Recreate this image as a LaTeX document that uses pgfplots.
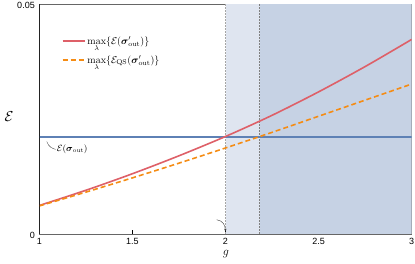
\documentclass[border=0pt]{standalone}
\usepackage{amsmath}
\usepackage{fontspec}
\setsansfont{Liberation Sans}
\usepackage{pgfplots}
\usetikzlibrary{arrows.meta}
\pgfplotsset{compat=1.18}
\definecolor{lightreg}{RGB}{223,229,240}
\definecolor{darkreg}{RGB}{198,210,228}
\definecolor{blueline}{RGB}{94,129,181}
\definecolor{redline}{RGB}{222,96,104}
\definecolor{orangeline}{RGB}{245,140,20}
\begin{document}
\begin{tikzpicture}
\path[use as bounding box] (-39.3pt,-30pt) rectangle (375.7pt,234pt);
\begin{axis}[
  at={(0,0)}, anchor=south west,
  scale only axis, width=372.4pt, height=230pt,
  xmin=1, xmax=3, ymin=0, ymax=0.05,
  xtick={1,1.5,2,2.5,3}, xticklabels={1,1.5,2,2.5,3},
  ytick={0,0.05}, yticklabels={0,0.05},
  tick pos=left, tick align=inside, major tick length=4pt,
  tick style={black, line width=0.6pt},
  ticklabel style={font=\sffamily\fontsize{9}{10}\selectfont},
  xticklabel style={yshift=-1pt},
  yticklabel style={xshift=-1pt, yshift=-1.5pt},
  axis line style={draw=black!60, line width=0.8pt},
  xlabel={$g$}, ylabel={$\mathcal{E}$},
  xlabel style={at={(axis description cs:0.501,-0.088)}, anchor=center, font=\large},
  ylabel style={at={(axis description cs:-0.081,0.51)}, anchor=center, rotate=-90, font=\Large},
  legend style={at={(axis description cs:0.06,0.868)}, anchor=north west, draw=none, fill=none,
    inner sep=0pt, row sep=6pt, font=\normalsize, cells={anchor=west}},
  legend image code/.code={\draw[#1] (0pt,0pt) -- (22pt,0pt);},
  clip=true,
]
\addplot[draw=none, fill=lightreg, forget plot] coordinates {(2,0) (2.183,0) (2.183,0.05) (2,0.05)} -- cycle;
\addplot[draw=none, fill=darkreg, forget plot] coordinates {(2.183,0) (3,0) (3,0.05) (2.183,0.05)} -- cycle;
\addplot[black!35, densely dotted, line width=0.5pt, forget plot] coordinates {(2,0) (2,0.05)};
\addplot[black!50, densely dotted, line width=0.5pt, forget plot] coordinates {(2.183,0) (2.183,0.05)};
\addplot[blueline, line width=1.6pt, forget plot] coordinates {(1,0.02115) (3,0.02115)};
\addplot[redline, line width=1.6pt, smooth, forget plot] coordinates {
 (1,0.0062) (1.25,0.0095) (1.5,0.0131) (1.75,0.0170) (2,0.0212)
 (2.25,0.0258) (2.5,0.0309) (2.75,0.0364) (3,0.0423)};
\addplot[orangeline, line width=1.6pt, dash pattern=on 5pt off 3pt, smooth, forget plot] coordinates {
 (1,0.0061) (1.25,0.0091) (1.5,0.0122) (1.75,0.0154) (2,0.0187)
 (2.25,0.0221) (2.5,0.0256) (2.75,0.0291) (3,0.0326)};
\addlegendimage{redline, line width=1.6pt}
\addlegendentry{$\max\limits_{\lambda}\{\mathcal{E}(\boldsymbol{\sigma}'_{\rm out})\}$}
\addlegendimage{orangeline, line width=1.6pt, dash pattern=on 5pt off 3pt}
\addlegendentry{$\max\limits_{\lambda}\{\mathcal{E}_{\rm QS}(\boldsymbol{\sigma}'_{\rm out})\}$}
\draw[black, line width=0.8pt] (rel axis cs:0,1) -- (rel axis cs:0,0) -- (rel axis cs:1,0);
\draw[black!70, line width=0.4pt] (axis cs:1.04,0.0201) .. controls (axis cs:1.05,0.0189) and (axis cs:1.07,0.0186) .. (axis cs:1.088,0.0184);
\node[anchor=west, font=\small, inner sep=1pt] at (axis cs:1.088,0.0184) {$\mathcal{E}(\boldsymbol{\sigma}_{\rm out})$};
\draw[black!80, line width=0.4pt, -{Stealth[length=3pt]}] (axis cs:1.953,0.0031) .. controls (axis cs:1.985,0.0029) and (axis cs:1.998,0.0020) .. (axis cs:2,0.0005);
\end{axis}
\end{tikzpicture}
\end{document}
